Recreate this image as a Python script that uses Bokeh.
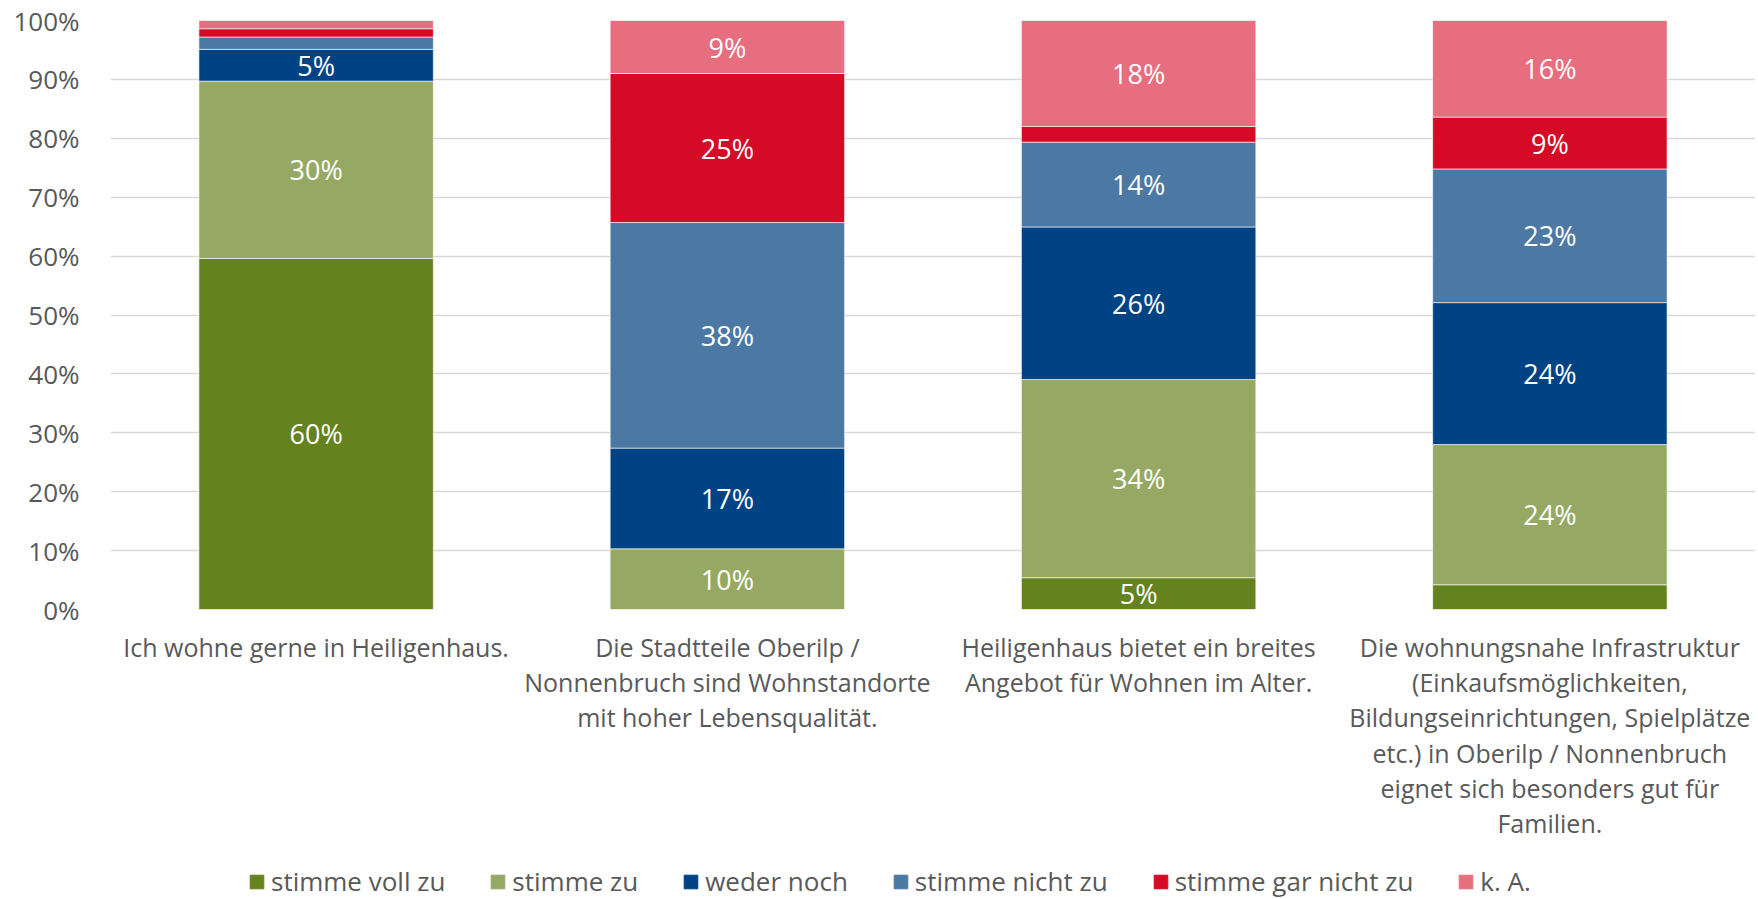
from bokeh.plotting import figure
from bokeh.layouts import column
from bokeh.models import FactorRange, Range1d, Legend, LegendItem, ColumnDataSource, FixedTicker, NumeralTickFormatter
from bokeh.core.properties import value
from bokeh.embed import file_html
from bokeh.resources import INLINE

categories = [
    "Ich wohne gerne in Heiligenhaus.",
    "Die Stadtteile Oberilp /\nNonnenbruch sind Wohnstandorte\nmit hoher Lebensqualität.",
    "Heiligenhaus bietet ein breites\nAngebot für Wohnen im Alter.",
    "Die wohnungsnahe Infrastruktur\n(Einkaufsmöglichkeiten,\nBildungseinrichtungen, Spielplätze\netc.) in Oberilp / Nonnenbruch\neignet sich besonders gut für\nFamilien.",
]
series_names = ["stimme voll zu", "stimme zu", "weder noch", "stimme nicht zu", "stimme gar nicht zu", "k. A."]
stimme_voll_zu = [59.6, 0.0, 5.4, 4.2]
stimme_zu = [30.1, 10.3, 33.65, 23.8]
weder_noch = [5.4, 17.1, 25.9, 24.1]
stimme_nicht_zu = [2.1, 38.3, 14.4, 22.7]
stimme_gar_nicht_zu = [1.4, 25.3, 2.65, 8.8]
k_a = [1.4, 9.0, 18.0, 16.4]
colors = ["#64821e", "#96a964", "#004385", "#4c79a3", "#d50a27", "#e66e7e"]

FONT = "Open Sans"
W = 1755
keys = ["s1", "s2", "s3", "s4", "s5", "s6"]
series = [stimme_voll_zu, stimme_zu, weder_noch, stimme_nicht_zu, stimme_gar_nicht_zu, k_a]
data = {"cat": categories}
for k, s in zip(keys, series):
    data[k] = [v / 100 for v in s]
source = ColumnDataSource(data)

p = figure(width=W, height=862, x_range=FactorRange(*categories, range_padding=0),
           y_range=Range1d(0, 1), output_backend="svg", toolbar_location=None,
           min_border_left=110, min_border_right=0, min_border_top=20, min_border_bottom=253)
p.title = None
p.outline_line_color = None

rs = p.vbar_stack(keys, x="cat", width=0.57, source=source, color=colors,
                  line_color="white", line_width=1, line_alpha=0.6)

# data labels
lx, ly, lt = [], [], []
for i, c in enumerate(categories):
    base = 0.0
    for s in series:
        v = s[i]
        if v >= 5:
            lx.append(c)
            ly.append((base + v / 2) / 100)
            lt.append(f"{round(v):.0f}%")
        base += v
p.text(x=lx, y=ly, text=lt, text_color="white", text_align="center", text_baseline="middle",
       text_font=value(FONT), text_font_size="27px")

p.yaxis.ticker = FixedTicker(ticks=[i / 10 for i in range(11)])
p.yaxis.formatter = NumeralTickFormatter(format="0%")
for ax in (p.xaxis, p.yaxis):
    ax.axis_line_color = None
    ax.major_tick_line_color = None
    ax.minor_tick_line_color = None
    ax.major_label_text_font = FONT
    ax.major_label_text_color = "#595959"
p.yaxis.major_label_text_font_size = "26px"
p.yaxis.major_label_standoff = 25
p.xaxis.major_label_text_font_size = "25px"
p.xaxis.major_label_text_line_height = 1.04
p.xaxis.major_label_standoff = 14
p.xgrid.grid_line_color = None
p.ygrid.grid_line_color = "#d9d9d9"
p.ygrid.grid_line_width = 1.5

# legend in its own strip below the chart
pl = figure(width=W, height=37, x_range=Range1d(0, 1), y_range=Range1d(0, 1),
            output_backend="svg", toolbar_location=None, x_axis_type=None, y_axis_type=None,
            min_border=0)
pl.title = None
pl.outline_line_color = None
pl.grid.visible = False
dummies = [pl.vbar(x=[-10], top=[-10], bottom=[-11], width=0.1, color=c) for c in colors]
legend = Legend(items=[LegendItem(label=n, renderers=[r]) for n, r in zip(series_names, dummies)],
                orientation="horizontal", location=(138, 0), padding=0, margin=0,
                spacing=44, label_standoff=6, glyph_width=17, glyph_height=17,
                border_line_color=None, background_fill_alpha=0,
                label_text_font=FONT, label_text_font_size="26px", label_text_color="#595959")
pl.add_layout(legend, "center")

layout = column(p, pl, spacing=0)
open("out.html", "w").write(file_html(layout, INLINE))
